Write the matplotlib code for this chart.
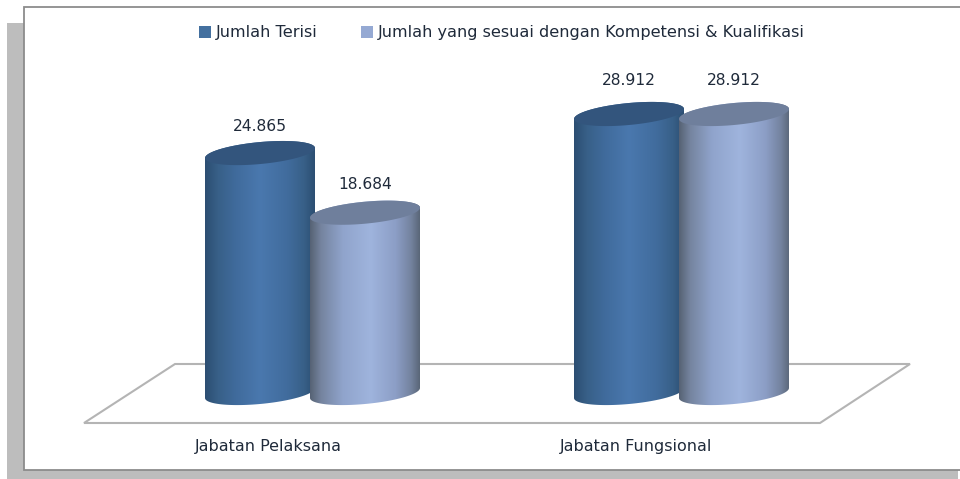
import numpy as np
import matplotlib
matplotlib.use('Agg')
import matplotlib.pyplot as plt
from matplotlib.patches import Polygon, Rectangle
from matplotlib.colors import LinearSegmentedColormap

categories = ['Jabatan Pelaksana', 'Jabatan Fungsional']
series_names = ['Jumlah Terisi', 'Jumlah yang sesuai dengan Kompetensi & Kualifikasi']
terisi = [24865, 28912]
sesuai = [18684, 28912]
value_labels = [['24.865', '28.912'], ['18.684', '28.912']]

W, H = 960, 479
TEXT = '#1f2a3a'
FS = 11.5

# one pixel = this many units on each axis
PX_X = 1 / 369
PX_Y = 1 / 0.00965
BASE_PX = 393
GROUP_PX = 312.5

fig = plt.figure(figsize=(W / 100, H / 100), dpi=100)
ax = fig.add_axes([0, 0, 1, 1])
ax.set_xlim(-GROUP_PX * PX_X, (W - GROUP_PX) * PX_X)
ax.set_ylim(-(H - BASE_PX) * PX_Y, BASE_PX * PX_Y)
ax.axis('off')


def px(x, y):
    return (x - GROUP_PX) * PX_X, (BASE_PX - y) * PX_Y


# background card
ax.add_patch(Rectangle(px(7, 479), 951 * PX_X, 456 * PX_Y, fc='#bdbdbd', ec='none', zorder=0))
ax.add_patch(Rectangle(px(23.5, 470), 937 * PX_X, 462.5 * PX_Y, fc='white', ec='#8c8c8c', lw=1.3, zorder=1))

# floor
floor = [px(84, 423), px(820, 423), px(910, 364), px(175, 364)]
ax.add_patch(Polygon(floor, closed=True, fc='white', ec='#b4b4b4', lw=1.5, zorder=2))

blue = LinearSegmentedColormap.from_list('b', [(0, '#2c4e72'), (0.12, '#386088'), (0.28, '#406b9c'),
                                               (0.5, '#4a78ae'), (0.75, '#416c9d'), (0.9, '#386088'),
                                               (1, '#2c4e72')])
light = LinearSegmentedColormap.from_list('l', [(0, '#566274'), (0.1, '#75849f'), (0.3, '#90a4cc'),
                                                (0.55, '#9fb4dd'), (0.78, '#8c9ec6'), (0.92, '#74839f'),
                                                (1, '#5a6678')])


def cylinder(xc, value, cmap, top_color, z):
    half = 55 * PX_X
    s = 5 * PX_Y       # tilt of the ellipse
    b = 11 * PX_Y      # half height of the ellipse
    t = np.linspace(0, 2 * np.pi, 120)
    ex = xc + half * np.cos(t)
    shape_y = s * np.cos(t) + b * np.sin(t)
    # body: lower half of base ellipse, then back over the top edge
    low = np.linspace(np.pi, 2 * np.pi, 60)
    bx = xc + half * np.cos(low)
    by = s * np.cos(low) + b * np.sin(low)
    up = np.linspace(0, np.pi, 60)
    ux = xc + half * np.cos(up)
    uy = value + s * np.cos(up) + b * np.sin(up)
    body = Polygon(np.column_stack([np.r_[bx, ux], np.r_[by, uy]]), closed=True, fc='none', ec='none',
                   transform=ax.transData)
    ax.add_patch(body)
    grad = np.linspace(0, 1, 256).reshape(1, -1)
    im = ax.imshow(grad, cmap=cmap, aspect='auto', zorder=z,
                   extent=[xc - half, xc + half, -15 * PX_Y, value + 15 * PX_Y])
    im.set_clip_path(body)
    ax.fill(ex, value + shape_y, color=top_color, lw=0, zorder=z + 0.1)


offset = 52.5 * PX_X
label_gap = [[27, 33], [28, 33]]
for i in range(len(categories)):
    cylinder(i - offset, terisi[i], blue, '#33557d', 3)
    cylinder(i + offset, sesuai[i], light, '#6f7f9c', 4)
    ax.text(i - offset, terisi[i] + label_gap[0][i] * PX_Y, value_labels[0][i], ha='center', va='center',
            fontsize=FS * 0.97, color=TEXT, zorder=6)
    ax.text(i + offset, sesuai[i] + label_gap[1][i] * PX_Y, value_labels[1][i], ha='center', va='center',
            fontsize=FS * 0.97, color=TEXT, zorder=6)
    cx = px(268.5 + 367.5 * i, 446)
    ax.text(cx[0], cx[1], categories[i], ha='center', va='center', fontsize=FS, color=TEXT, zorder=6)

# legend
handles = [Rectangle((0, 0), 1, 1, fc='#44709f'), Rectangle((0, 0), 1, 1, fc='#95a9d3')]
ax.legend(handles, series_names, loc='center', bbox_to_anchor=(502 / W, 1 - 33 / H), ncol=2, frameon=False,
          fontsize=11.65, labelcolor=TEXT, handlelength=0.75, handleheight=0.7, handletextpad=0.3,
          columnspacing=2.65, borderpad=0)

fig.savefig('out.png', dpi=100)
